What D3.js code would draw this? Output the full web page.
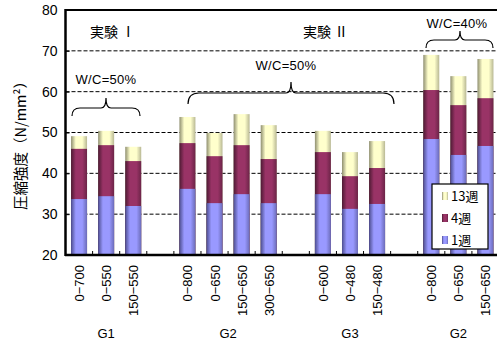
<!DOCTYPE html>
<html>
<head>
<meta charset="utf-8">
<script src="https://cdn.jsdelivr.net/npm/d3@7"></script>
<style>
  html, body { margin: 0; padding: 0; background: #fff; }
  svg { display: block; }
  text { font-family: "Liberation Sans", "Noto Sans CJK JP", sans-serif; fill: #000; }
  .jp { font-family: "Noto Sans CJK JP", sans-serif; }
</style>
</head>
<body>
<svg id="chart" width="497" height="345"></svg>
<script>
// Specimen labels per slot (null = spacer slot between groups)
const categories = ["0−700", "0−550", "150−550", null,
                    "0−800", "0−650", "150−650", "300−650", null,
                    "0−600", "0−480", "150−480", null,
                    "0−800", "0−650", "150−650"];
// Compressive strength (N/mm²) at each curing age
const week1  = [33.7, 34.4, 32.0, null, 36.2, 32.7, 34.9, 32.7, null, 34.9, 31.3, 32.5, null, 48.4, 44.5, 46.7];
const week4  = [46.0, 46.9, 43.0, null, 47.4, 44.2, 46.9, 43.5, null, 45.2, 39.3, 41.3, null, 60.4, 56.7, 58.4];
const week13 = [49.1, 50.4, 46.5, null, 53.8, 49.9, 54.5, 51.8, null, 50.4, 45.2, 47.9, null, 69.0, 63.8, 68.0];
const seriesNames = ["13週", "4週", "1週"];
const groupLabels = [
  { name: "G1", from: 0, to: 2 },
  { name: "G2", from: 4, to: 7 },
  { name: "G3", from: 9, to: 11 },
  { name: "G2", from: 13, to: 15 }
];
const yTicks = [20, 30, 40, 50, 60, 70, 80];

const svg = d3.select("#chart");
const plotLeft = 65.5, plotRight = 499, plotTop = 10, plotBottom = 255;

const x = d3.scaleBand()
  .domain(categories.map((d, i) => i))
  .range([plotLeft, plotRight])
  .paddingInner(0.41)
  .paddingOuter(0.205);
const y = d3.scaleLinear().domain([20, 80]).range([plotBottom, plotTop]);

// Cylinder-style horizontal gradients for the bars
const defs = svg.append("defs");
const palettes = {
  "13週": { edge: "#8f8f70", mid: "#ffffcc", dark: "#b8b894" },
  "4週":  { edge: "#4d1a33", mid: "#993366", dark: "#6b2447" },
  "1週":  { edge: "#4d4d8f", mid: "#9999ff", dark: "#6b6bb8" }
};
const gradId = {};
seriesNames.forEach((s, k) => {
  const id = "g" + k;
  gradId[s] = id;
  const p = palettes[s];
  const g = defs.append("linearGradient").attr("id", id)
    .attr("x1", "0%").attr("x2", "100%").attr("y1", "0%").attr("y2", "0%");
  g.append("stop").attr("offset", "0%").attr("stop-color", p.edge);
  g.append("stop").attr("offset", "30%").attr("stop-color", p.mid);
  g.append("stop").attr("offset", "70%").attr("stop-color", p.mid);
  g.append("stop").attr("offset", "100%").attr("stop-color", p.dark);
});

// Dashed gridlines
svg.append("g").selectAll("line")
  .data(yTicks.filter(v => v > 20 && v < 80))
  .join("line")
  .attr("x1", plotLeft).attr("x2", plotRight)
  .attr("y1", d => y(d)).attr("y2", d => y(d))
  .attr("stroke", "#000").attr("stroke-width", 1)
  .attr("stroke-dasharray", "4,2");

// Overlapped bars: 13 weeks behind, then 4 weeks, then 1 week in front
const seriesData = { "13週": week13, "4週": week4, "1週": week1 };
seriesNames.forEach(s => {
  svg.append("g").selectAll("rect")
    .data(seriesData[s].map((v, i) => ({ v, i })).filter(d => d.v != null))
    .join("rect")
    .attr("x", d => x(d.i))
    .attr("width", x.bandwidth())
    .attr("y", d => y(d.v))
    .attr("height", d => y(20) - y(d.v))
    .attr("fill", `url(#${gradId[s]})`);
});

// Frame: left axis, bottom axis, top border
svg.append("line").attr("x1", plotLeft).attr("x2", plotRight).attr("y1", plotTop).attr("y2", plotTop)
  .attr("stroke", "#000").attr("stroke-width", 2);
svg.append("line").attr("x1", plotLeft - 0.5).attr("x2", plotRight).attr("y1", plotBottom).attr("y2", plotBottom)
  .attr("stroke", "#000").attr("stroke-width", 2.5);
svg.append("line").attr("x1", plotLeft).attr("x2", plotLeft).attr("y1", plotTop - 1).attr("y2", plotBottom + 1)
  .attr("stroke", "#000").attr("stroke-width", 2.5);

// Y axis ticks and labels
const yAxis = d3.axisLeft(y).tickValues(yTicks).tickSize(-4).tickPadding(8);
const yg = svg.append("g").attr("transform", `translate(${plotLeft},0)`).call(yAxis);
yg.select(".domain").remove();
yg.selectAll(".tick line").attr("stroke", "#000");
yg.selectAll(".tick text").attr("font-size", 14).attr("font-family", "Liberation Sans, sans-serif");

// Inner tick marks at slot boundaries on the bottom axis
const step = x.step();
svg.append("g").selectAll("line")
  .data(d3.range(1, categories.length))
  .join("line")
  .attr("x1", i => x(i) - (step - x.bandwidth()) / 2)
  .attr("x2", i => x(i) - (step - x.bandwidth()) / 2)
  .attr("y1", plotBottom).attr("y2", plotBottom - 4)
  .attr("stroke", "#000");

// Rotated specimen labels
svg.append("g").selectAll("text")
  .data(categories.map((c, i) => ({ c, i })).filter(d => d.c != null))
  .join("text")
  .attr("transform", d => `translate(${x(d.i) + x.bandwidth() / 2 + 5},265) rotate(-90)`)
  .attr("text-anchor", "end")
  .attr("font-size", 13)
  .text(d => d.c);

// Group labels
svg.append("g").selectAll("text")
  .data(groupLabels)
  .join("text")
  .attr("x", d => (x(d.from) + x(d.to) + x.bandwidth()) / 2)
  .attr("y", 338)
  .attr("text-anchor", "middle")
  .attr("font-size", 13)
  .text(d => d.name);

// Y axis title
svg.append("text")
  .attr("class", "jp")
  .attr("transform", "translate(26,142) rotate(-90)")
  .attr("text-anchor", "middle")
  .attr("font-size", 14.5)
  .text("圧縮強度（N/mm²）");

// Experiment headings
svg.append("text").attr("class", "jp").attr("x", 90).attr("y", 37)
  .attr("font-size", 14).text("実験 Ⅰ");
svg.append("text").attr("class", "jp").attr("x", 303).attr("y", 37)
  .attr("font-size", 14).text("実験 Ⅱ");

// Curly brace path: horizontal span x0..x1, arms at yEnd, bar at yMid, tip at yTip
function brace(x0, x1, xt, yEnd, yMid, yTip) {
  const r = Math.abs(yEnd - yMid);
  return `M${x0},${yEnd} Q${x0},${yMid} ${x0 + r},${yMid} L${xt - 5},${yMid} ` +
         `Q${xt},${yMid} ${xt},${yTip} Q${xt},${yMid} ${xt + 5},${yMid} ` +
         `L${x1 - r},${yMid} Q${x1},${yMid} ${x1},${yEnd}`;
}
const braces = [
  { x0: 72, x1: 140, xt: 106, yEnd: 116, yMid: 108, yTip: 98, label: "W/C=50%", lx: 106, ly: 84 },
  { x0: 188, x1: 394, xt: 291, yEnd: 104, yMid: 93, yTip: 82, label: "W/C=50%", lx: 286, ly: 70 },
  { x0: 426, x1: 493, xt: 460, yEnd: 48, yMid: 40, yTip: 31, label: "W/C=40%", lx: 457, ly: 28 }
];
svg.append("g").selectAll("path")
  .data(braces)
  .join("path")
  .attr("d", d => brace(d.x0, d.x1, d.xt, d.yEnd, d.yMid, d.yTip))
  .attr("fill", "none").attr("stroke", "#000").attr("stroke-width", 1.2);
svg.append("g").selectAll("text")
  .data(braces)
  .join("text")
  .attr("x", d => d.lx).attr("y", d => d.ly)
  .attr("text-anchor", "middle")
  .attr("font-size", 13)
  .attr("letter-spacing", 0.3)
  .text(d => d.label);

// Legend
const lg = svg.append("g").attr("transform", "translate(432,184)");
lg.append("rect").attr("width", 56).attr("height", 65)
  .attr("fill", "#fff").attr("stroke", "#000").attr("stroke-width", 1.2);
seriesNames.forEach((s, k) => {
  const yy = 12 + k * 22;
  lg.append("rect").attr("x", 10).attr("y", yy - 4).attr("width", 6).attr("height", 8)
    .attr("fill", `url(#${gradId[s]})`);
  lg.append("text").attr("class", "jp").attr("x", 19).attr("y", yy + 5)
    .attr("font-size", 13).text(s);
});
</script>
</body>
</html>
